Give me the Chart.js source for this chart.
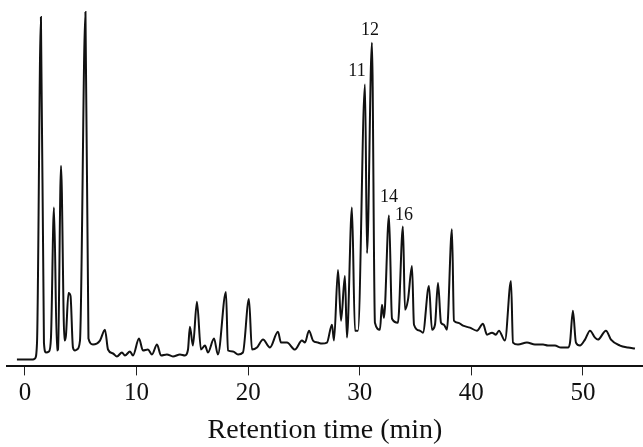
<!DOCTYPE html>
<html>
<head>
<meta charset="utf-8">
<script src="https://cdn.jsdelivr.net/npm/chart.js@4/dist/chart.umd.min.js"></script>
<style>
  body { margin: 0; background: #fff; }
  #wrap { width: 643px; height: 447px; position: relative; }
</style>
</head>
<body>
<div id="wrap"><canvas id="chromChart"></canvas></div>
<script>
// retention time (min) and detector signal (arbitrary units)
const times = [
  -0.72, 0.72, 0.90, 1.08, 1.43, 1.70, 1.88, 2.15, 2.33, 2.60, 2.87, 2.96, 3.23, 3.54, 3.67,
  3.90, 4.08, 4.30, 4.48, 4.66, 4.93, 5.42, 5.69, 6.09, 6.72, 7.17, 7.44, 7.89, 8.24, 8.69,
  8.96, 9.41, 9.68, 10.22, 10.57, 11.02, 11.38, 11.83, 12.19, 12.72, 13.26, 13.89, 14.34, 14.61, 14.78,
  15.05, 15.41, 15.77, 16.13, 16.40, 16.94, 17.29, 18.01, 18.19, 18.64, 19.09, 19.53, 20.07, 20.34, 20.79,
  21.33, 21.95, 22.67, 22.94, 23.48, 24.19, 24.82, 25.09, 25.45, 25.81, 26.25, 26.61, 27.06, 27.51, 27.69,
  28.05, 28.32, 28.67, 28.85, 29.30, 29.57, 29.84, 30.47, 30.65, 31.09, 31.36, 31.81, 31.99, 32.17, 32.62,
  32.89, 33.42, 33.87, 34.05, 34.32, 34.68, 34.86, 35.39, 35.66, 36.20, 36.47, 36.74, 37.01, 37.28, 37.54,
  37.81, 38.26, 38.44, 38.80, 39.25, 39.87, 40.50, 41.04, 41.40, 41.85, 42.20, 42.47, 43.01, 43.55, 43.73,
  44.18, 44.98, 45.70, 46.42, 46.86, 47.49, 48.03, 48.66, 48.84, 49.10, 49.37, 49.73, 50.18, 50.63, 51.08,
  51.34, 52.06, 52.51, 53.32, 54.03, 54.66
];
const signal = [
  6, 6, 7, 23, 351, 23, 13, 14, 28, 159, 15, 16, 201, 25, 30,
  73, 70, 18, 15, 16, 25, 356, 27, 21, 25, 36, 16, 12, 9, 13,
  10, 14, 10, 27, 15, 16, 11, 21, 10, 11, 9, 11, 10, 16, 39,
  20, 64, 16, 20, 13, 27, 11, 74, 15, 14, 11, 13, 67, 16, 18,
  26, 18, 34, 23, 23, 16, 25, 23, 35, 25, 23, 22, 23, 41, 25,
  96, 45, 90, 28, 159, 35, 35, 283, 113, 325, 43, 36, 61, 48, 151,
  47, 43, 140, 56, 66, 100, 41, 35, 33, 80, 36, 41, 83, 43, 41,
  36, 137, 45, 43, 40, 38, 35, 42, 31, 33, 31, 35, 25, 85, 23,
  21, 23, 21, 21, 20, 20, 18, 18, 23, 55, 23, 20, 26, 35, 28,
  26, 35, 26, 20, 18, 17
];
const xTicks = [0, 10, 20, 30, 40, 50];
const peakLabels = ['11', '12', '14', '16'];
const peakTimes = [30.47, 31.09, 32.62, 33.87];

// label nudges in px (dx, dy from the peak apex)
const labelNudge = [[-8, -13], [-2, -12], [0, -18], [1, -11]];

const serif = "'Liberation Serif', 'DejaVu Serif', serif";

const peakLabelPlugin = {
  id: 'peakLabels',
  afterDatasetsDraw(chart) {
    const ctx = chart.ctx;
    const xs = chart.scales.x, ys = chart.scales.y;
    ctx.save();
    ctx.font = '18px ' + serif;
    ctx.fillStyle = '#111';
    ctx.textAlign = 'center';
    ctx.textBaseline = 'middle';
    peakLabels.forEach((lab, i) => {
      const idx = times.indexOf(peakTimes[i]);
      const px = xs.getPixelForValue(times[idx]) + labelNudge[i][0];
      const py = ys.getPixelForValue(signal[idx]) + labelNudge[i][1];
      ctx.fillText(lab, px, py);
    });
    ctx.restore();
  }
};

new Chart(document.getElementById('chromChart'), {
  type: 'line',
  data: {
    datasets: [{
      data: times.map((t, i) => ({ x: t, y: signal[i] })),
      borderColor: '#111',
      borderWidth: 2,
      pointRadius: 0,
      cubicInterpolationMode: 'monotone',
      fill: false
    }]
  },
  options: {
    responsive: true,
    maintainAspectRatio: false,
    animation: false,
    layout: { padding: { left: 7, right: 0, top: 0, bottom: 0 } },
    plugins: { legend: { display: false }, tooltip: { enabled: false } },
    scales: {
      x: {
        type: 'linear',
        min: -1.61,
        max: 55.38,
        afterBuildTicks: axis => { axis.ticks = xTicks.map(v => ({ value: v })); },
        grid: { drawOnChartArea: false, drawTicks: true, tickLength: 9, color: '#222', lineWidth: 1 },
        border: { display: true, color: '#111', width: 2 },
        ticks: { color: '#111', padding: 3, maxRotation: 0, font: { family: serif, size: 25 } },
        title: {
          display: true,
          text: 'Retention time (min)',
          color: '#111',
          padding: { top: 2, bottom: 0 },
          font: { family: serif, size: 28 }
        }
      },
      y: { display: false, min: -1, max: 368 }
    }
  },
  plugins: [peakLabelPlugin]
});
</script>
</body>
</html>
